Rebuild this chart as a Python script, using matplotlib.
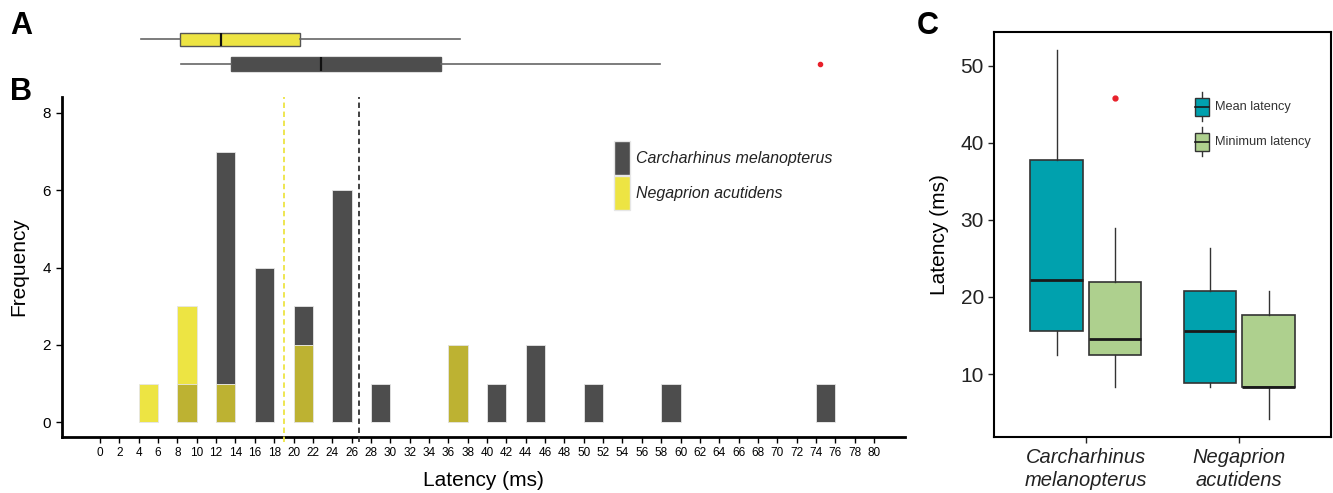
import matplotlib
matplotlib.use('Agg')
import matplotlib.pyplot as plt
from matplotlib.patches import Patch, Rectangle
from matplotlib.lines import Line2D
from matplotlib.legend_handler import HandlerBase

plt.rcParams['font.family'] = ['Liberation Sans', 'DejaVu Sans']

# histogram bins (left edge, ms) and counts per species
bin_left = [4, 8, 12, 16, 20, 24, 28, 36, 40, 44, 50, 58, 74]
bin_width = 2
count_cm = [0, 1, 7, 4, 3, 6, 1, 2, 1, 2, 1, 1, 1]
count_na = [1, 3, 1, 0, 2, 0, 0, 2, 0, 0, 0, 0, 0]
mean_cm = 26.8
mean_na = 19.0

# boxplot summaries of latency per species (ms)
box_na = dict(whislo=4.2, q1=8.3, med=12.5, q3=20.7, whishi=37.2, fliers=[])
box_cm = dict(whislo=8.4, q1=13.5, med=22.8, q3=35.2, whishi=57.9, fliers=[74.4])

# panel C: mean / minimum latency per species
species = ['Carcharhinus\nmelanopterus', 'Negaprion\nacutidens']
mean_lat = [dict(whislo=12.5, q1=15.6, med=22.2, q3=37.7, whishi=52.0, fliers=[]),
            dict(whislo=8.3, q1=8.8, med=15.6, q3=20.8, whishi=26.3, fliers=[])]
min_lat = [dict(whislo=8.3, q1=12.45, med=14.55, q3=21.9, whishi=29.0, fliers=[45.8]),
           dict(whislo=4.2, q1=8.3, med=8.3, q3=17.7, whishi=20.8, fliers=[])]

DARK = '#4d4d4d'
YELLOW = '#ede443'
OLIVE = '#bdb232'
TEAL = '#00a1ae'
GREEN = '#aed08e'
RED = '#e8202a'

fig = plt.figure(figsize=(13.33, 4.93), dpi=100)
axB = fig.add_axes([0.0465, 0.1136, 0.6324, 0.6897])
axA = fig.add_axes([0.0465, 0.8398, 0.6324, 0.1095])
axC = fig.add_axes([0.7459, 0.1142, 0.2524, 0.8203])

xlim = (-3.93, 83.2)

# ---- B: histogram
centers = [b + bin_width / 2 for b in bin_left]
overlap = [min(a, b) for a, b in zip(count_cm, count_na)]
axB.bar(centers, count_cm, width=bin_width, color=DARK, edgecolor='#e6e6e6', linewidth=0.6, zorder=2)
axB.bar(centers, count_na, width=bin_width, color=YELLOW, edgecolor='#e6e6e6', linewidth=0.6, zorder=3)
axB.bar(centers, overlap, width=bin_width, color=OLIVE, edgecolor='#e6e6e6', linewidth=0.6, zorder=4)
axB.axvline(mean_na, ymin=-0.015, ymax=1, color=YELLOW, ls=(0, (3, 2)), lw=1.3, clip_on=False, zorder=5)
axB.axvline(mean_cm, ymin=-0.015, ymax=1, color='#333333', ls=(0, (3, 2)), lw=1.3, clip_on=False, zorder=5)
axB.set_xlim(*xlim)
axB.set_ylim(-0.38, 8.41)
axB.set_xticks(range(0, 81, 2))
axB.set_yticks([0, 2, 4, 6, 8])
axB.tick_params(axis='x', labelsize=8.5, length=4, width=1, pad=3)
axB.tick_params(axis='y', labelsize=11, length=4, width=1, pad=4)
for s in ['top', 'right']:
    axB.spines[s].set_visible(False)
for s in ['left', 'bottom']:
    axB.spines[s].set_linewidth(2)
axB.set_xlabel('Latency (ms)', fontsize=15, labelpad=9)
axB.set_ylabel('Frequency', fontsize=15, labelpad=10)
legB = axB.legend(handles=[Patch(facecolor=DARK, edgecolor='#e6e6e6', label='Carcharhinus melanopterus'),
                           Patch(facecolor=YELLOW, edgecolor='#e6e6e6', label='Negaprion acutidens')],
                  loc='upper left', bbox_to_anchor=(0.655, 0.87), frameon=False, fontsize=11.5,
                  handlelength=1.0, handleheight=2.9, labelspacing=0.05, handletextpad=0.35,
                  borderpad=0, borderaxespad=0)
for t in legB.get_texts():
    t.set_fontstyle('italic')
    t.set_color('#222222')

# ---- A: horizontal boxplots on the same latency scale
bA = axA.bxp([box_cm, box_na], positions=[1, 2], widths=0.55, orientation='horizontal',
             patch_artist=True, showcaps=False,
             whiskerprops=dict(color='#666666', lw=1.2),
             medianprops=dict(color='#111111', lw=1.6),
             flierprops=dict(marker='o', markersize=3, markerfacecolor=RED, markeredgecolor=RED))
for box, fc in zip(bA['boxes'], [DARK, YELLOW]):
    box.set_facecolor(fc)
    box.set_edgecolor('#555555')
    box.set_linewidth(1)
axA.set_xlim(*xlim)
axA.set_ylim(0.39, 2.59)
axA.axis('off')

# ---- C: paired boxplots
off = 0.19
pos = [1 - off, 2 - off, 1 + off, 2 + off]
bC = axC.bxp(mean_lat + min_lat, positions=pos, widths=0.34, patch_artist=True, showcaps=False,
             whiskerprops=dict(color='#333333', lw=1),
             medianprops=dict(color='#1a1a1a', lw=2),
             flierprops=dict(marker='o', markersize=3.5, markerfacecolor=RED, markeredgecolor=RED))
for box, fc in zip(bC['boxes'], [TEAL, TEAL, GREEN, GREEN]):
    box.set_facecolor(fc)
    box.set_edgecolor('#333333')
    box.set_linewidth(1.2)
axC.set_xlim(0.405, 2.595)
axC.set_ylim(1.87, 54.33)
axC.set_xticks([1, 2])
axC.set_xticklabels(species, fontstyle='italic', fontsize=14.5, linespacing=1.3)
axC.set_yticks([10, 20, 30, 40, 50])
axC.tick_params(axis='y', labelsize=15, length=4, width=1, colors='#222222')
axC.tick_params(axis='x', length=4, width=1, pad=4, colors='#222222')
for s in axC.spines.values():
    s.set_linewidth(1.5)
axC.set_ylabel('Latency (ms)', fontsize=15, labelpad=8)


class BoxHandler(HandlerBase):
    def create_artists(self, legend, orig_handle, xdescent, ydescent, width, height, fontsize, trans):
        x0, y0 = -xdescent, -ydescent
        bh = height * 0.62
        by = y0 + (height - bh) / 2
        xm = x0 + width / 2
        w1 = Line2D([xm, xm], [y0, by], color='#333333', lw=1, transform=trans)
        w2 = Line2D([xm, xm], [by + bh, y0 + height], color='#333333', lw=1, transform=trans)
        rect = Rectangle((x0, by), width, bh, facecolor=orig_handle.get_facecolor(),
                         edgecolor='#333333', lw=1, transform=trans)
        med = Line2D([x0, x0 + width], [y0 + height / 2] * 2, color='#1a1a1a', lw=1.2, transform=trans)
        return [w1, w2, rect, med]


legC = axC.legend(handles=[Patch(facecolor=TEAL, label='Mean latency'),
                           Patch(facecolor=GREEN, label='Minimum latency')],
                  handler_map={Patch: BoxHandler()}, loc='upper left', bbox_to_anchor=(0.596, 0.852),
                  frameon=False, fontsize=9.2, handlelength=1.1, handleheight=3.12, labelspacing=0.47,
                  handletextpad=0.45, borderpad=0, borderaxespad=0)
for t in legC.get_texts():
    t.set_color('#333333')

# panel letters
fig.text(10 / 1333, 1 - 34 / 493, 'A', fontsize=22, weight='bold', va='baseline')
fig.text(10 / 1333, 1 - 100 / 493, 'B', fontsize=22, weight='bold', va='baseline')
fig.text(917 / 1333, 1 - 34 / 493, 'C', fontsize=22, weight='bold', va='baseline')

fig.savefig('out.png', dpi=100)
